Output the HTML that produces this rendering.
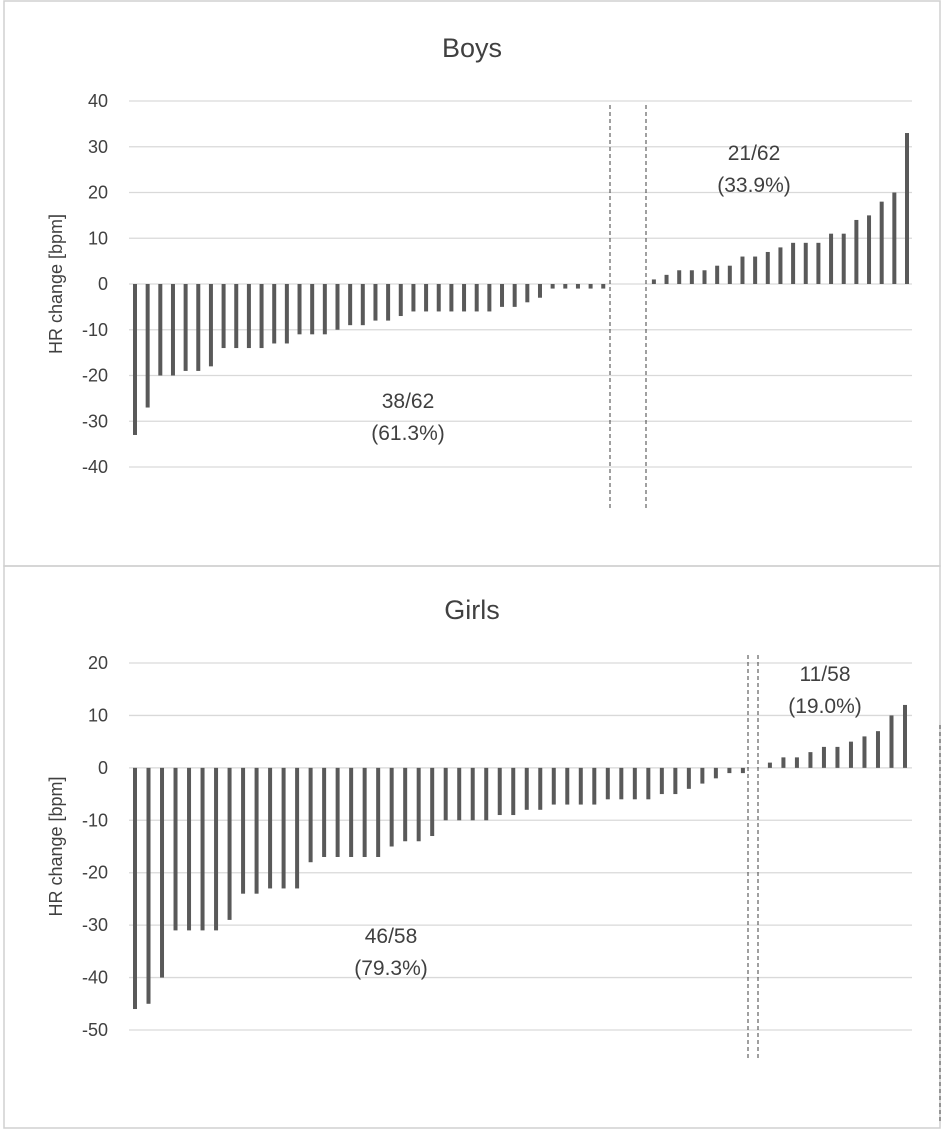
<!DOCTYPE html>
<html><head><meta charset="utf-8"><style>
body{margin:0;background:#fff;}
svg text{font-family:"Liberation Sans",sans-serif;fill:#404040;}
</style></head><body>
<svg width="945" height="1134" xmlns="http://www.w3.org/2000/svg" id="chart">
<rect x="4" y="1" width="936" height="565" fill="none" stroke="#d0d0d0" stroke-width="1.5"/>
<rect x="4" y="566" width="936" height="562" fill="none" stroke="#d0d0d0" stroke-width="1.5"/>
<g id="boys"></g>
<g id="girls"></g>
</svg>
<script>
const boysValues=[-33,-27,-20,-20,-19,-19,-18,-14,-14,-14,-14,-13,-13,-11,-11,-11,-10,-9,-9,-8,-8,-7,-6,-6,-6,-6,-6,-6,-6,-5,-5,-4,-3,-1,-1,-1,-1,-1,0,0,0,1,2,3,3,3,4,4,6,6,7,8,9,9,9,11,11,14,15,18,20,33];
const boysTicks=[40,30,20,10,0,-10,-20,-30,-40];
const girlsValues=[-46,-45,-40,-31,-31,-31,-31,-29,-24,-24,-23,-23,-23,-18,-17,-17,-17,-17,-17,-15,-14,-14,-13,-10,-10,-10,-10,-9,-9,-8,-8,-7,-7,-7,-7,-6,-6,-6,-6,-5,-5,-4,-3,-2,-1,-1,0,1,2,2,3,4,4,5,6,7,10,12];
const girlsTicks=[20,10,0,-10,-20,-30,-40,-50];
const NS="http://www.w3.org/2000/svg";
function mk(p,tag,attrs){const e=document.createElementNS(NS,tag);for(const k in attrs)e.setAttribute(k,attrs[k]);p.appendChild(e);return e;}
function draw(g,cfg){
  const {values,ticks,title,titleY,yTop,yBot,x0,x1,barStart,barEnd,labels,dashes}=cfg;
  const vmax=ticks[0],vmin=ticks[ticks.length-1];
  const y=v=>yTop+(vmax-v)/(vmax-vmin)*(yBot-yTop);
  const step=(barEnd-barStart)/(values.length-1);
  const x=i=>barStart+i*step;
  const t=mk(g,'text',{x:472,y:titleY,'text-anchor':'middle','font-size':27});t.textContent=title;
  
  
  ticks.forEach(v=>{
    const l=mk(g,'line',{x1:x0,x2:x1,y1:y(v),y2:y(v),stroke:'#d9d9d9','stroke-width':1.3});
    
    
    const tl=mk(g,'text',{x:108,y:y(v)+6,'text-anchor':'end','font-size':18});tl.textContent=v;
    
    
  });
  const yc=(yTop+yBot)/2;
  const yt=mk(g,'text',{x:0,y:0,'text-anchor':'middle','font-size':18,transform:`translate(62,${yc}) rotate(-90)`});yt.textContent='HR change [bpm]';
  
  
  values.forEach((v,i)=>{
    if(v===0)return;
    const a=y(v),b=y(0);
    const r=mk(g,'rect',{x:x(i)-2,y:Math.min(a,b),width:4,height:Math.abs(a-b),fill:'#595959'});
    
    
  });
  dashes.forEach(d=>{
    const l=mk(g,'line',{x1:d[0],x2:d[0],y1:d[1],y2:d[2],stroke:'#404040','stroke-width':1,'stroke-dasharray':'4,3'});
    
    
  });
  labels.forEach(lb=>{
    lb.lines.forEach((s,k)=>{
      const tx=mk(g,'text',{x:lb.x,y:lb.y+k*32,'text-anchor':'middle','font-size':21});tx.textContent=s;
      
      
    });
  });
}
draw(document.getElementById('boys'),{values:boysValues,ticks:boysTicks,title:'Boys',titleY:57,yTop:101,yBot:467,x0:129,x1:912,barStart:135,barEnd:907,
  labels:[{x:408,y:408,lines:['38/62','(61.3%)']},{x:754,y:160,lines:['21/62','(33.9%)']}],
  dashes:[[610,105,508],[646,105,508]]});
draw(document.getElementById('girls'),{values:girlsValues,ticks:girlsTicks,title:'Girls',titleY:619,yTop:663,yBot:1030,x0:129,x1:912,barStart:135,barEnd:905,
  labels:[{x:391,y:943,lines:['46/58','(79.3%)']},{x:825,y:681,lines:['11/58','(19.0%)']}],
  dashes:[[748,655,1058],[758,655,1058],[940,725,1124]]});
</script>
</body></html>
